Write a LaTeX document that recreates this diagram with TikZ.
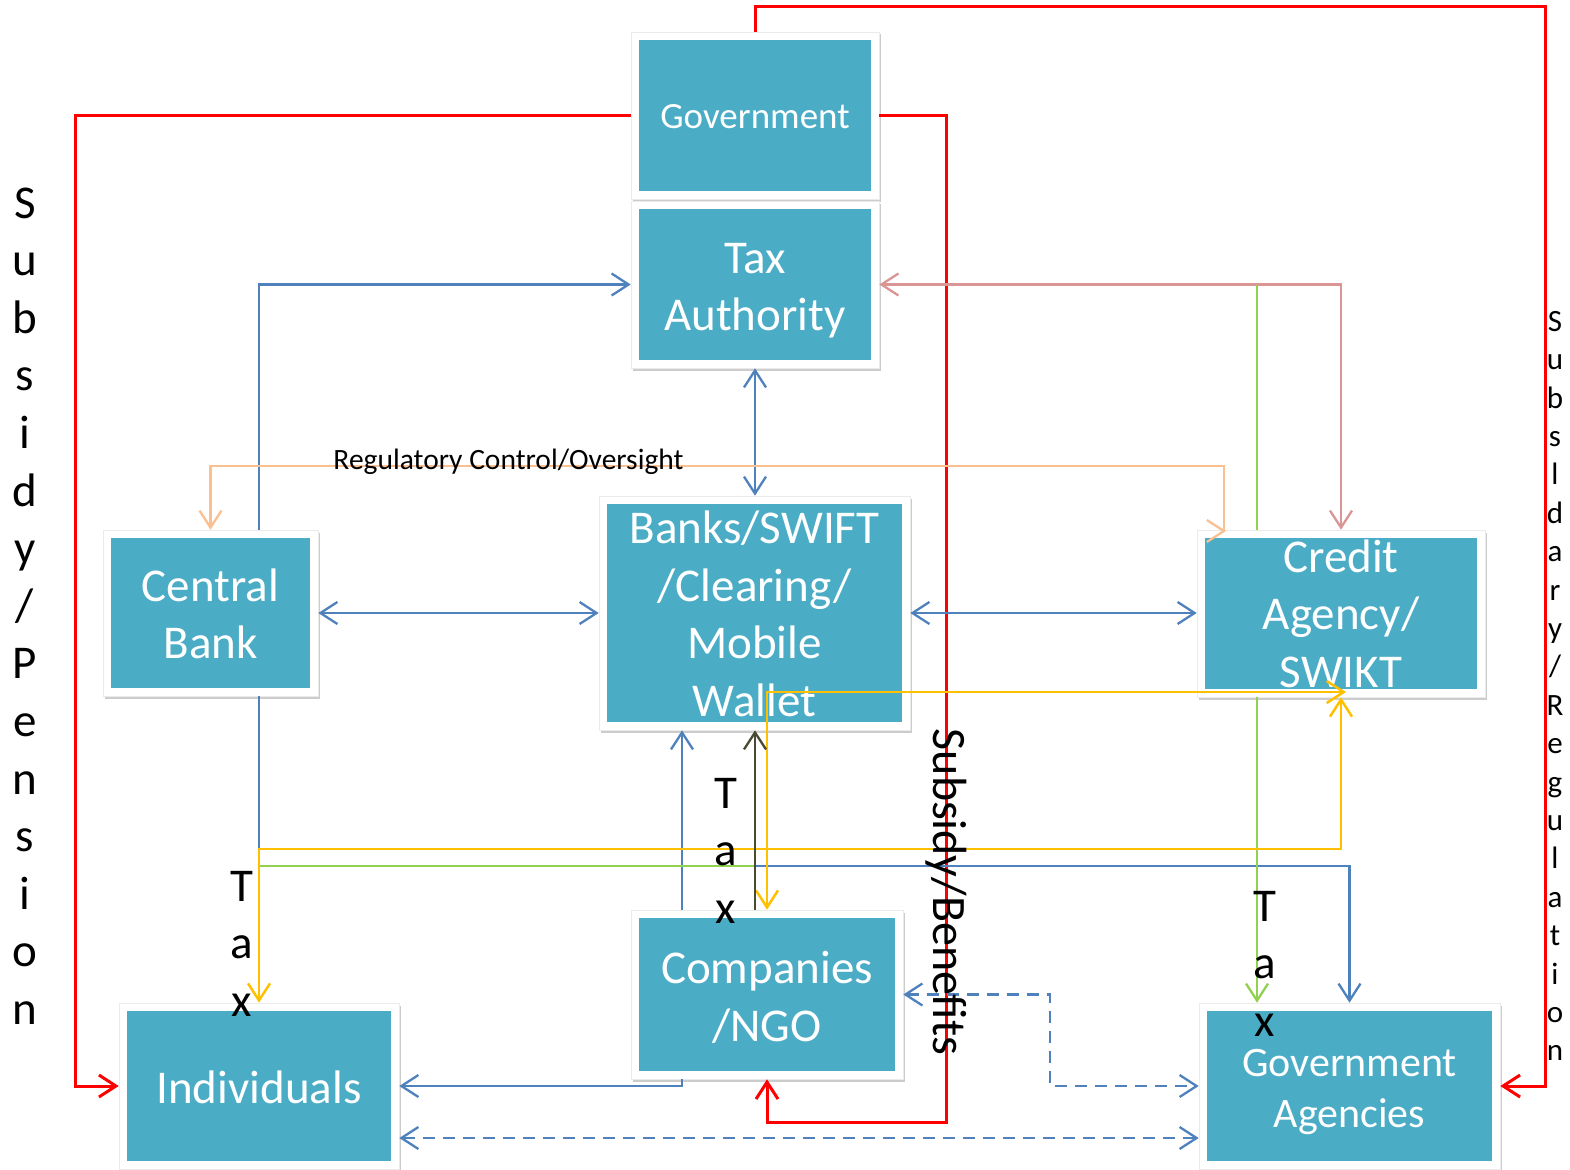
\documentclass[tikz,border=0pt]{standalone}
\usepackage{fontspec}
\setmainfont{Carlito}
\usetikzlibrary{arrows.meta,shadows,calc}
\definecolor{tealbox}{HTML}{4BACC6}
\definecolor{cred}{HTML}{FF0000}
\definecolor{cblue}{HTML}{4F81BD}
\definecolor{corange}{HTML}{FAC090}
\definecolor{cpink}{HTML}{D99694}
\definecolor{cgreen}{HTML}{92D050}
\definecolor{cyellow}{HTML}{FFC000}
\definecolor{cdark}{HTML}{4A4A32}
\begin{document}
\begin{tikzpicture}[x=1pt,y=-1pt,
  box/.style={rectangle, fill=white, draw=black!8, line width=0.6pt, inner sep=0pt,
    drop shadow={shadow xshift=1.5pt, shadow yshift=-2.5pt, opacity=0.2, fill=black},
    path picture={\fill[tealbox] ([xshift=8pt,yshift=-8pt]path picture bounding box.north west)
      rectangle ([xshift=-8pt,yshift=8pt]path picture bounding box.south east);}},
  btext/.style={inner sep=0pt, text=white, align=center},
  big/.style={font=\fontsize{47}{57.5}\selectfont},
  a1/.style={-{Straight Barb[length=17pt,width=22pt]}},
  a2/.style={{Straight Barb[length=17pt,width=22pt]}-{Straight Barb[length=17pt,width=22pt]}},
  redl/.style={cred, line width=3pt},
  bluel/.style={cblue, line width=2.3pt},
  dashl/.style={cblue, line width=2.3pt, dash pattern=on 12pt off 8pt},
  orangel/.style={corange, line width=2.3pt},
  pinkl/.style={cpink, line width=2.3pt},
  greenl/.style={cgreen, line width=2.3pt},
  yell/.style={cyellow, line width=2.5pt},
  darkl/.style={cdark, line width=2.3pt},
  vlbl/.style={align=center, inner sep=0pt, text=black},
]
\useasboundingbox (0,0) rectangle (1570,1169);
\fill[white] (0,0) rectangle (1570,1169);

% boxes
\node[box, minimum width=248pt, minimum height=167pt] (gov) at (755,115.5) {};
\node[box, minimum width=248pt, minimum height=167pt] (tax) at (755,284.5) {};
\node[box, minimum width=311pt, minimum height=234pt] (banks) at (754.5,613) {};
\node[box, minimum width=215pt, minimum height=166pt] (cb) at (210.5,613) {};
\node[box, minimum width=288pt, minimum height=167pt] (credit) at (1341,613.5) {};
\node[box, minimum width=272pt, minimum height=169pt] (comp) at (767,994.5) {};
\node[box, minimum width=280pt, minimum height=166pt] (indiv) at (259,1086) {};
\node[box, minimum width=301pt, minimum height=166pt] (ga) at (1349.5,1086) {};

% box texts
\node[btext, font=\fontsize{37}{45}\selectfont] (govT) at ([yshift=-1pt]gov.center) {Government};
\node[btext, big] (taxT) at ([yshift=-6pt]tax.center) {Tax\\Authority};
\node[btext, big] (banksT) at ([yshift=-1pt]banks.center) {Banks/SWIFT\\/Clearing/\\Mobile\\Wallet};
\node[btext, big] (cbT) at ([yshift=-1pt]cb.center) {Central\\Bank};
\node[btext, big] (creditT) at (credit.center) {Credit\\Agency/\\SWIKT};
\node[btext, big] (compT) at ([yshift=-3pt]comp.center) {Companies\\/NGO};
\node[btext, big] (indivT) at ([yshift=-1pt]indiv.center) {Individuals};
\node[btext, font=\fontsize{42}{51}\selectfont] (gaT) at ([yshift=-6pt]ga.center) {Government\\Agencies};

\coordinate (g1) at (259,866);
\coordinate (g2) at (755,866);

% red
\draw[redl,a1] (gov.north) |- (1545,7) |- (ga.east);
\draw[redl,a1] (gov.west) -| (75,1086) -- (indiv.west);
\draw[redl,a1] (gov.east) -| (946,1122) -| (comp.south);

% blue
\draw[bluel,a1] ([xshift=48.5pt]cb.north) |- (tax.west);
\draw[bluel,a2] (tax.south) -- (tax.south |- banks.north);
\draw[bluel,a2] (cb.east) -- (banks.west);
\draw[bluel,a2] (banks.east) -- (banks.east -| credit.west);
\draw[bluel,a1] ([xshift=48.5pt]cb.south) |- (1349.5,866) -- (ga.north);
\draw[bluel,a1] ([xshift=-85pt]comp.north) -- ([xshift=-85pt]comp.north |- banks.south);
\draw[bluel,a1] ([xshift=-85pt]comp.south) |- (indiv.east);
\draw[dashl,a2] (comp.east) -| (1050,1040) |- (ga.west);
\draw[dashl,a2] ([yshift=-52pt]indiv.east) -- ([yshift=-52pt]indiv.east -| ga.west);

% orange
\draw[orangel,a2] (cb.north) |- (1224,466) -- (1224,531) -- (1226,531);
% pink
\draw[pinkl,a2] (tax.east) -| (credit.north);
% green
\draw[greenl] ([xshift=-84pt]credit.north) -- ([xshift=-84pt]credit.north |- tax.east);
\draw[greenl,a1] ([xshift=-84pt]credit.south) -- ([xshift=-84pt]credit.south |- ga.north);
\draw[greenl] (g1) -- (g2);
% yellow
\draw[yell,a2] (indiv.north) |- (1341,849) -- (credit.south);
\draw[yell,a2] (comp.north) |- (1346,692);
% dark
\draw[darkl,a1] ([xshift=-12pt]comp.north) -- ([xshift=-12pt]comp.north |- banks.south);

% labels
\node[vlbl, font=\fontsize{47}{57.6}\selectfont] (lsub) at (25,606) {S\\u\\b\\s\\i\\d\\y\\/\\P\\e\\n\\s\\i\\o\\n};
\node[vlbl, font=\fontsize{31}{38.4}\selectfont] (rsub) at (1555,686) {S\\u\\b\\s\\l\\d\\a\\r\\y\\/\\R\\e\\g\\u\\l\\a\\t\\i\\o\\n};
\node[vlbl, font=\fontsize{47}{57.5}\selectfont] (tax1) at (242,943.5) {T\\a\\x};
\node[vlbl, font=\fontsize{47}{57.5}\selectfont] (tax2) at (726,850.5) {T\\a\\x};
\node[vlbl, font=\fontsize{47}{57.5}\selectfont] (tax3) at (1265,963.5) {T\\a\\x};
\node[vlbl, rotate=-90, font=\fontsize{48}{57}\selectfont] (sben) at (946,892) {Subsidy/Benefits};
\node[vlbl, font=\fontsize{29.5}{35}\selectfont] (reg) at (508.5,462) {Regulatory Control/Oversight};
\end{tikzpicture}
\end{document}
